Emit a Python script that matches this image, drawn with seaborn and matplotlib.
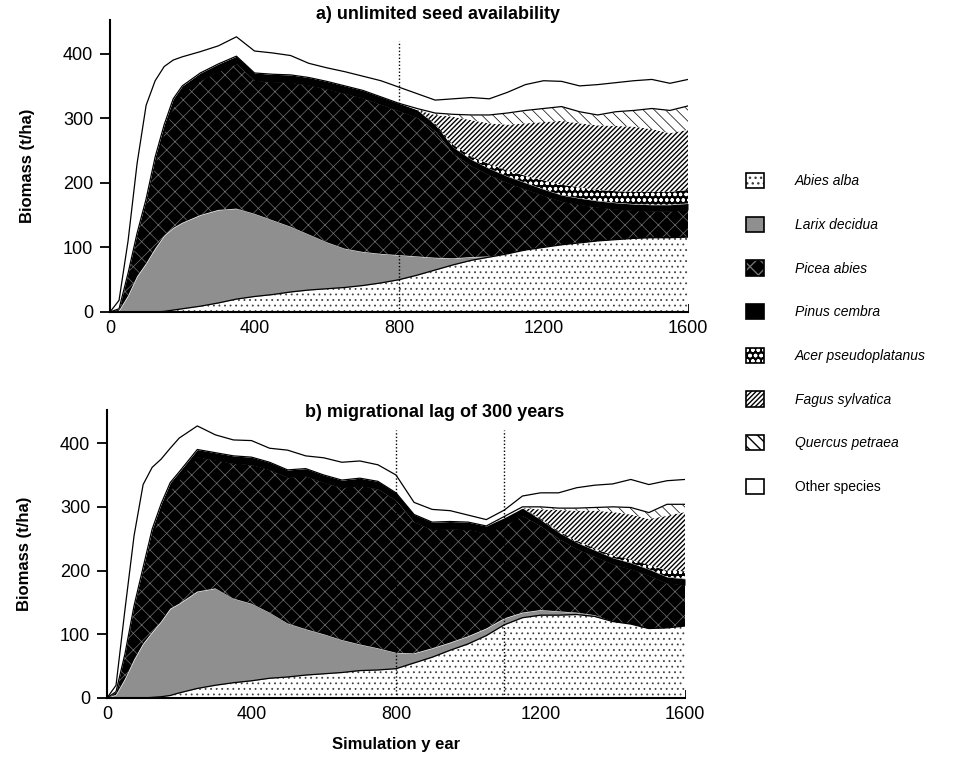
import numpy as np
import pandas as pd
import matplotlib
matplotlib.use("Agg")
import matplotlib.pyplot as plt
import seaborn as sns
from matplotlib.patches import Patch

years = [0, 25, 50, 75, 100, 125, 150, 175, 200, 250, 300, 350, 400, 450, 500,
         550, 600, 650, 700, 750, 800, 850, 900, 950, 1000, 1050, 1100, 1150,
         1200, 1250, 1300, 1350, 1400, 1450, 1500, 1550, 1600]

species = ["Abies alba", "Larix decidua", "Picea abies", "Pinus cembra",
           "Acer pseudoplatanus", "Fagus sylvatica", "Quercus petraea",
           "Other species"]

# a) unlimited seed availability  (biomass t/ha per species)
a_abies = [0, 0, 0, 0, 0, 0, 1, 3, 5, 9, 14, 20, 24, 27, 31, 34, 36, 38, 41, 45, 50,
           57, 65, 73, 80, 85, 90, 96, 100, 104, 107, 110, 112, 114, 115, 115, 116]
a_larix = [0, 2, 25, 55, 75, 98, 117, 127, 133, 141, 144, 140, 128, 115, 101, 86, 72,
           60, 52, 45, 38, 29, 19, 10, 5, 1, 0, 0, 0, 0, 0, 0, 0, 0, 0, 0, 0]
a_picea = [0, 3, 33, 62, 92, 132, 160, 188, 200, 208, 214, 224, 206, 214, 223, 231,
           237, 240, 238, 231, 223, 215, 196, 162, 141, 126, 110, 94, 80, 67, 59, 52,
           47, 43, 41, 41, 42]
a_pinus = [0, 0, 2, 5, 8, 10, 12, 12, 12, 12, 12, 12, 12, 12, 12, 12, 12, 12, 12, 12,
           12, 12, 10, 10, 10, 10, 10, 10, 10, 10, 10, 10, 10, 10, 10, 10, 10]
a_acer = [0, 0, 0, 0, 0, 0, 0, 0, 0, 0, 0, 0, 0, 0, 0, 0, 0, 0, 0, 0, 0, 0,
          2, 4, 5, 7, 9, 11, 14, 16, 17, 17, 18, 19, 20, 20, 21]
a_fagus = [0, 0, 0, 0, 0, 0, 0, 0, 0, 0, 0, 0, 0, 0, 0, 0, 0, 0, 0, 0, 0, 0,
           13, 43, 56, 63, 71, 81, 90, 99, 99, 100, 101, 101, 97, 91, 93]
a_quercus = [0, 0, 0, 0, 0, 0, 0, 0, 0, 0, 0, 0, 0, 0, 0, 0, 0, 0, 0, 0, 0, 2,
             3, 4, 8, 13, 18, 20, 21, 22, 18, 16, 22, 25, 32, 35, 37]
a_other = [0, 13, 50, 108, 145, 118, 90, 60, 45, 33, 28, 30, 34, 33, 30, 22, 21, 22,
           22, 25, 25, 23, 20, 24, 27, 25, 32, 40, 43, 39, 40, 47, 45, 46, 45, 42, 41]

# b) migrational lag of 300 years
b_abies = [0, 0, 0, 0, 0, 1, 2, 4, 8, 15, 20, 24, 27, 31, 33, 36, 38, 40, 43, 44, 46,
           55, 64, 75, 85, 98, 115, 126, 130, 130, 131, 128, 120, 116, 109, 110, 113]
b_larix = [0, 5, 30, 60, 85, 102, 118, 136, 140, 152, 152, 132, 121, 103, 84, 72, 62,
           51, 41, 34, 25, 15, 14, 12, 12, 11, 10, 8, 8, 6, 3, 2, 0, 0, 0, 0, 0]
b_picea = [0, 5, 38, 80, 112, 152, 173, 186, 195, 211, 201, 212, 218, 224, 229, 240,
           238, 239, 249, 250, 239, 206, 186, 178, 167, 149, 146, 152, 132, 114, 100,
           92, 90, 86, 83, 70, 64]
b_pinus = [0, 0, 2, 5, 8, 10, 12, 12, 12, 12, 12, 12, 12, 12, 12, 12, 12, 12, 12, 12,
           12, 12, 12, 12, 12, 12, 12, 12, 10, 10, 10, 10, 10, 10, 10, 10, 10]
b_acer = [0, 0, 0, 0, 0, 0, 0, 0, 0, 0, 0, 0, 0, 0, 0, 0, 0, 0, 0, 0, 0, 0, 0, 0, 0,
          0, 0, 0, 2, 2, 3, 3, 4, 5, 7, 10, 12]
b_fagus = [0, 0, 0, 0, 0, 0, 0, 0, 0, 0, 0, 0, 0, 0, 0, 0, 0, 0, 0, 0, 0, 0, 0, 0, 0,
           0, 0, 0, 14, 33, 47, 59, 68, 71, 72, 86, 93]
b_quercus = [0, 0, 0, 0, 0, 0, 0, 0, 0, 0, 0, 0, 0, 0, 0, 0, 0, 0, 0, 0, 0, 0, 0, 0, 0,
             0, 2, 2, 4, 3, 4, 5, 8, 11, 10, 18, 12]
b_other = [0, 10, 70, 110, 130, 97, 70, 54, 53, 37, 28, 25, 26, 22, 31, 20, 27, 28, 27,
           26, 28, 19, 20, 17, 11, 10, 10, 17, 22, 24, 32, 35, 36, 44, 44, 37, 39]

panels = [
    ("a) unlimited seed availability",
     [a_abies, a_larix, a_picea, a_pinus, a_acer, a_fagus, a_quercus, a_other],
     [800]),
    ("b) migrational lag of 300 years",
     [b_abies, b_larix, b_picea, b_pinus, b_acer, b_fagus, b_quercus, b_other],
     [800, 1100]),
]

# facecolor, hatch, hatch colour, hatch linewidth
styles = {
    "Abies alba": ("white", "...", "#404040", 0.6),
    "Larix decidua": ("#8f8f8f", None, "#8f8f8f", 0.5),
    "Picea abies": ("black", "xx", "#707070", 0.5),
    "Pinus cembra": ("black", None, "black", 0.5),
    "Acer pseudoplatanus": ("black", "ooo", "white", 0.9),
    "Fagus sylvatica": ("white", "///////", "black", 1.0),
    "Quercus petraea": ("white", "\\\\\\", "black", 0.5),
    "Other species": ("white", None, "white", 0.5),
}

sns.set_style("ticks")
plt.rcParams["font.family"] = ["Liberation Sans", "DejaVu Sans"]
plt.rcParams.update({"text.color": "black", "axes.labelcolor": "black",
                     "xtick.color": "black", "ytick.color": "black",
                     "axes.edgecolor": "black"})

fig = plt.figure(figsize=(9.75, 7.64), dpi=100)
ax_a = fig.add_axes([110 / 975, 1 - 312 / 764, 578 / 975, 292 / 764])
ax_b = fig.add_axes([107 / 975, 1 - 698 / 764, 578 / 975, 288 / 764])


def fill_layer(ax, x, lo, hi, name):
    fc, hatch, hc, hlw = styles[name]
    with plt.rc_context({"hatch.linewidth": hlw}):
        coll = ax.fill_between(x, lo, hi, facecolor=fc, edgecolor=hc,
                               hatch=hatch, linewidth=0)
    if hasattr(coll, "set_hatch_linewidth"):
        coll.set_hatch_linewidth(hlw)
    return coll


for ax, (title, layers, lags) in zip([ax_a, ax_b], panels):
    x = np.array(years)
    tops = np.cumsum(np.array(layers, dtype=float), axis=0)
    base = np.zeros(len(x))
    for name, top in zip(species, tops):
        fill_layer(ax, x, base, top, name)
        base = top

    edges = pd.DataFrame({"year": x, "abies": tops[0], "stack": tops[6],
                          "total": tops[7]})
    for col in ["abies", "stack", "total"]:
        sns.lineplot(data=edges, x="year", y=col, ax=ax, color="black",
                     linewidth=0.9, legend=False)

    for lag in lags:
        ax.vlines(lag, 0, 420, colors="black", linestyles=(0, (1, 1.5)),
                  linewidth=1.0, zorder=5)

    ax.set_xlim(0, 1600)
    ax.set_ylim(0, 452)
    ax.set_xticks([0, 400, 800, 1200, 1600])
    ax.set_xticks(np.arange(0, 1601, 100), minor=True)
    ax.set_yticks([0, 100, 200, 300, 400])
    ax.tick_params(axis="x", which="major", direction="in", length=6, width=1.3,
                   pad=6, labelsize=13)
    ax.tick_params(axis="x", which="minor", direction="in", length=4, width=1.3)
    ax.tick_params(axis="y", direction="out", length=7, width=1.3, pad=5,
                   labelsize=13)
    for s in ["left", "bottom"]:
        ax.spines[s].set_linewidth(1.5)
    sns.despine(ax=ax)
    ax.set_xlabel("")
    ax.set_ylabel("Biomass (t/ha)", fontsize=12, fontweight="bold")
    ax.yaxis.set_label_coords(-0.13, 0.5)
    ax.text(0.567, 1.02 if ax is ax_a else 0.993, title, transform=ax.transAxes,
            ha="center", va="center", fontsize=13, fontweight="bold")

ax_b.set_xlabel("Simulation y ear", fontsize=12, fontweight="bold", labelpad=10)

handles = []
for name in species:
    fc, hatch, hc, hlw = styles[name]
    handles.append((Patch(facecolor=fc, edgecolor=hc, hatch=hatch, linewidth=0),
                    Patch(fill=False, edgecolor="black", linewidth=1.2)))
leg = fig.legend(handles, species, loc="upper left",
                 bbox_to_anchor=(746 / 975, 1 - 173 / 764), frameon=False,
                 borderaxespad=0, borderpad=0, handlelength=1.3, handleheight=1.3,
                 handletextpad=2.2, labelspacing=2.05, fontsize=10)
for t in leg.get_texts()[:-1]:
    t.set_style("italic")

fig.savefig("out.png", dpi=100)
